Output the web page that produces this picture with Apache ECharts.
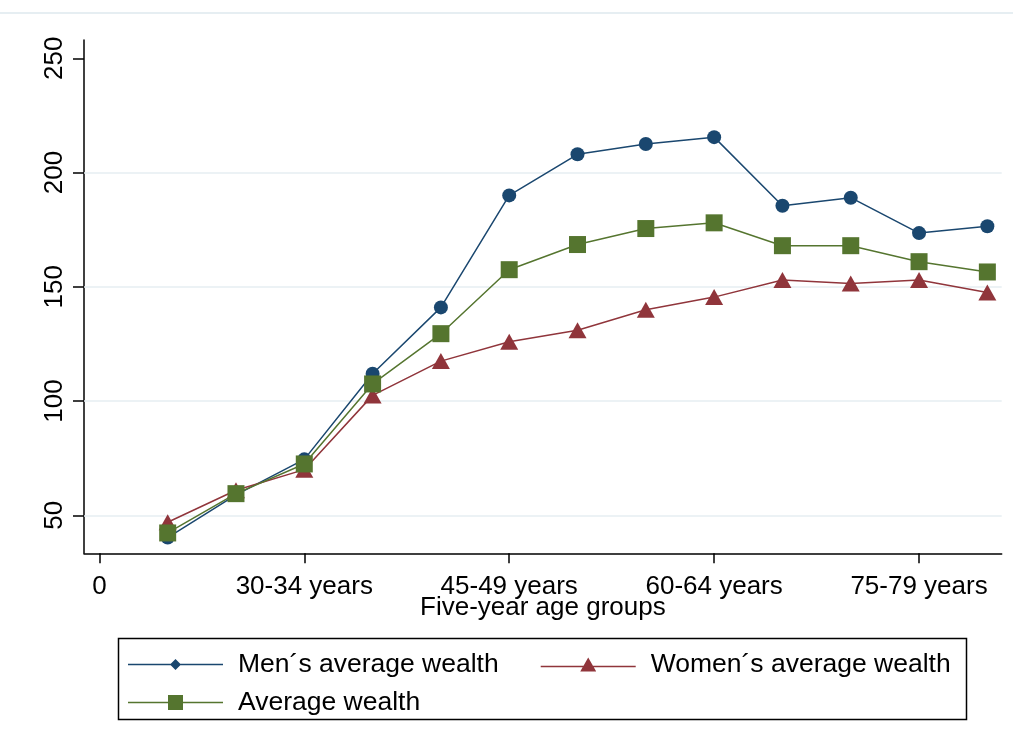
<!DOCTYPE html>
<html>
<head>
<meta charset="utf-8">
<script src="https://cdn.jsdelivr.net/npm/echarts@6/dist/echarts.min.js"></script>
<style>
  html, body { margin: 0; padding: 0; background: #fff; }
  #chart { width: 1013px; height: 747px; }
</style>
</head>
<body>
<div id="chart"></div>
<script>
// Five-year age group index (1 = 20-24 years ... 13 = 80-84 years)
const ageGroups = [1, 2, 3, 4, 5, 6, 7, 8, 9, 10, 11, 12, 13];

// Average wealth per age group
const menWealth   = [40.3, 59, 74.5, 112, 141, 190, 208, 212.5, 215.5, 185.5, 189, 173.5, 176.5];
const womenWealth = [47, 61, 70, 102.5, 117.5, 126, 131, 140, 145.5, 153, 151.5, 153, 147.5];
const avgWealth   = [42.3, 59.5, 72.5, 107.5, 129.5, 157.5, 168.5, 175.5, 178, 168, 168, 161, 156.5];

// Axis ticks and labels
const xTickValues = [0, 3, 6, 9, 12];
const xTickLabels = ['0', '30-34 years', '45-49 years', '60-64 years', '75-79 years'];
const yTickValues = [50, 100, 150, 200, 250];
const yGridValues = [50, 100, 150, 200];

const seriesNames = ['Men\u00b4s average wealth', 'Women\u00b4s average wealth', 'Average wealth'];

const FONT = 'Liberation Sans, Arial, sans-serif';
const COL_MEN = '#1a476f', COL_WOMEN = '#90353b', COL_AVG = '#55752f';

const pairs = vals => ageGroups.map((x, i) => [x, vals[i]]);

// Legend keys: line segment with the marker in the middle
const iconMen   = 'path://M0,9.2L95,9.2L95,10.8L0,10.8Z M47.5,4.5L53,10L47.5,15.5L42,10Z';
const iconWomen = 'path://M0,12.2L95,12.2L95,13.8L0,13.8Z M47.5,4L55.5,18L39.5,18Z';
const iconAvg   = 'path://M0,9.2L95,9.2L95,10.8L0,10.8Z M40,2.5L55,2.5L55,17.5L40,17.5Z';

const chart = echarts.init(document.getElementById('chart'), null, { renderer: 'canvas' });

const legendText = { fontFamily: FONT, fontSize: 26.5, color: '#000', padding: [0, 0, 0, 10] };

chart.setOption({
  backgroundColor: '#fff',
  animation: false,
  grid: { left: 84, right: 11.3, top: 40, bottom: 193.7 },
  xAxis: {
    type: 'value',
    min: -0.225,
    max: 13.21,
    name: 'Five-year age groups',
    nameLocation: 'middle',
    nameGap: 42,
    nameMoveOverlap: false,
    nameTextStyle: { fontFamily: FONT, fontSize: 26, color: '#000' },
    axisLine: { show: true, onZero: false, lineStyle: { color: '#000', width: 1.5 } },
    axisTick: { show: true, length: 10, customValues: xTickValues, lineStyle: { color: '#000', width: 1.5 } },
    axisLabel: {
      customValues: xTickValues,
      margin: 21,
      fontFamily: FONT, fontSize: 26, color: '#000',
      formatter: v => xTickLabels[xTickValues.indexOf(v)]
    },
    splitLine: { show: false }
  },
  yAxis: {
    type: 'value',
    min: 33.4,
    max: 258,
    axisLine: { show: true, onZero: false, lineStyle: { color: '#000', width: 1.5 } },
    axisTick: { show: true, length: 11, customValues: yTickValues, lineStyle: { color: '#000', width: 1.5 } },
    axisLabel: {
      customValues: yTickValues,
      rotate: 90,
      margin: 16,
      fontFamily: FONT, fontSize: 26, color: '#000'
    },
    splitLine: { show: false }
  },
  legend: [
    {
      data: [
        { name: seriesNames[0], icon: iconMen },
        { name: seriesNames[1], icon: iconWomen }
      ],
      left: 128, top: 651,
      itemWidth: 95, itemHeight: 20, itemGap: 42,
      padding: 0,
      textStyle: legendText
    },
    {
      data: [{ name: seriesNames[2], icon: iconAvg }],
      left: 128, top: 689,
      itemWidth: 95, itemHeight: 20,
      padding: 0,
      textStyle: legendText
    }
  ],
  graphic: [
    { type: 'line', shape: { x1: 0, y1: 13, x2: 1013, y2: 13 }, style: { stroke: '#e6eef2', lineWidth: 2 }, silent: true },
    { type: 'rect', shape: { x: 118.5, y: 638.5, width: 848, height: 81 }, style: { fill: 'none', stroke: '#000', lineWidth: 1.5 }, silent: true }
  ],
  series: [
    {
      name: seriesNames[0],
      type: 'line',
      data: pairs(menWealth),
      symbol: 'circle', symbolSize: 14,
      lineStyle: { color: COL_MEN, width: 1.5 },
      itemStyle: { color: COL_MEN },
      markLine: {
        silent: true, symbol: 'none', z: 1,
        label: { show: false },
        lineStyle: { color: '#e6eef2', width: 1.5, type: 'solid' },
        data: yGridValues.map(v => ({ yAxis: v }))
      }
    },
    {
      name: seriesNames[1],
      type: 'line',
      data: pairs(womenWealth),
      symbol: 'triangle', symbolSize: [18, 16],
      lineStyle: { color: COL_WOMEN, width: 1.5 },
      itemStyle: { color: COL_WOMEN }
    },
    {
      name: seriesNames[2],
      type: 'line',
      data: pairs(avgWealth),
      symbol: 'rect', symbolSize: 17,
      lineStyle: { color: COL_AVG, width: 1.5 },
      itemStyle: { color: COL_AVG }
    }
  ]
});
</script>
</body>
</html>
